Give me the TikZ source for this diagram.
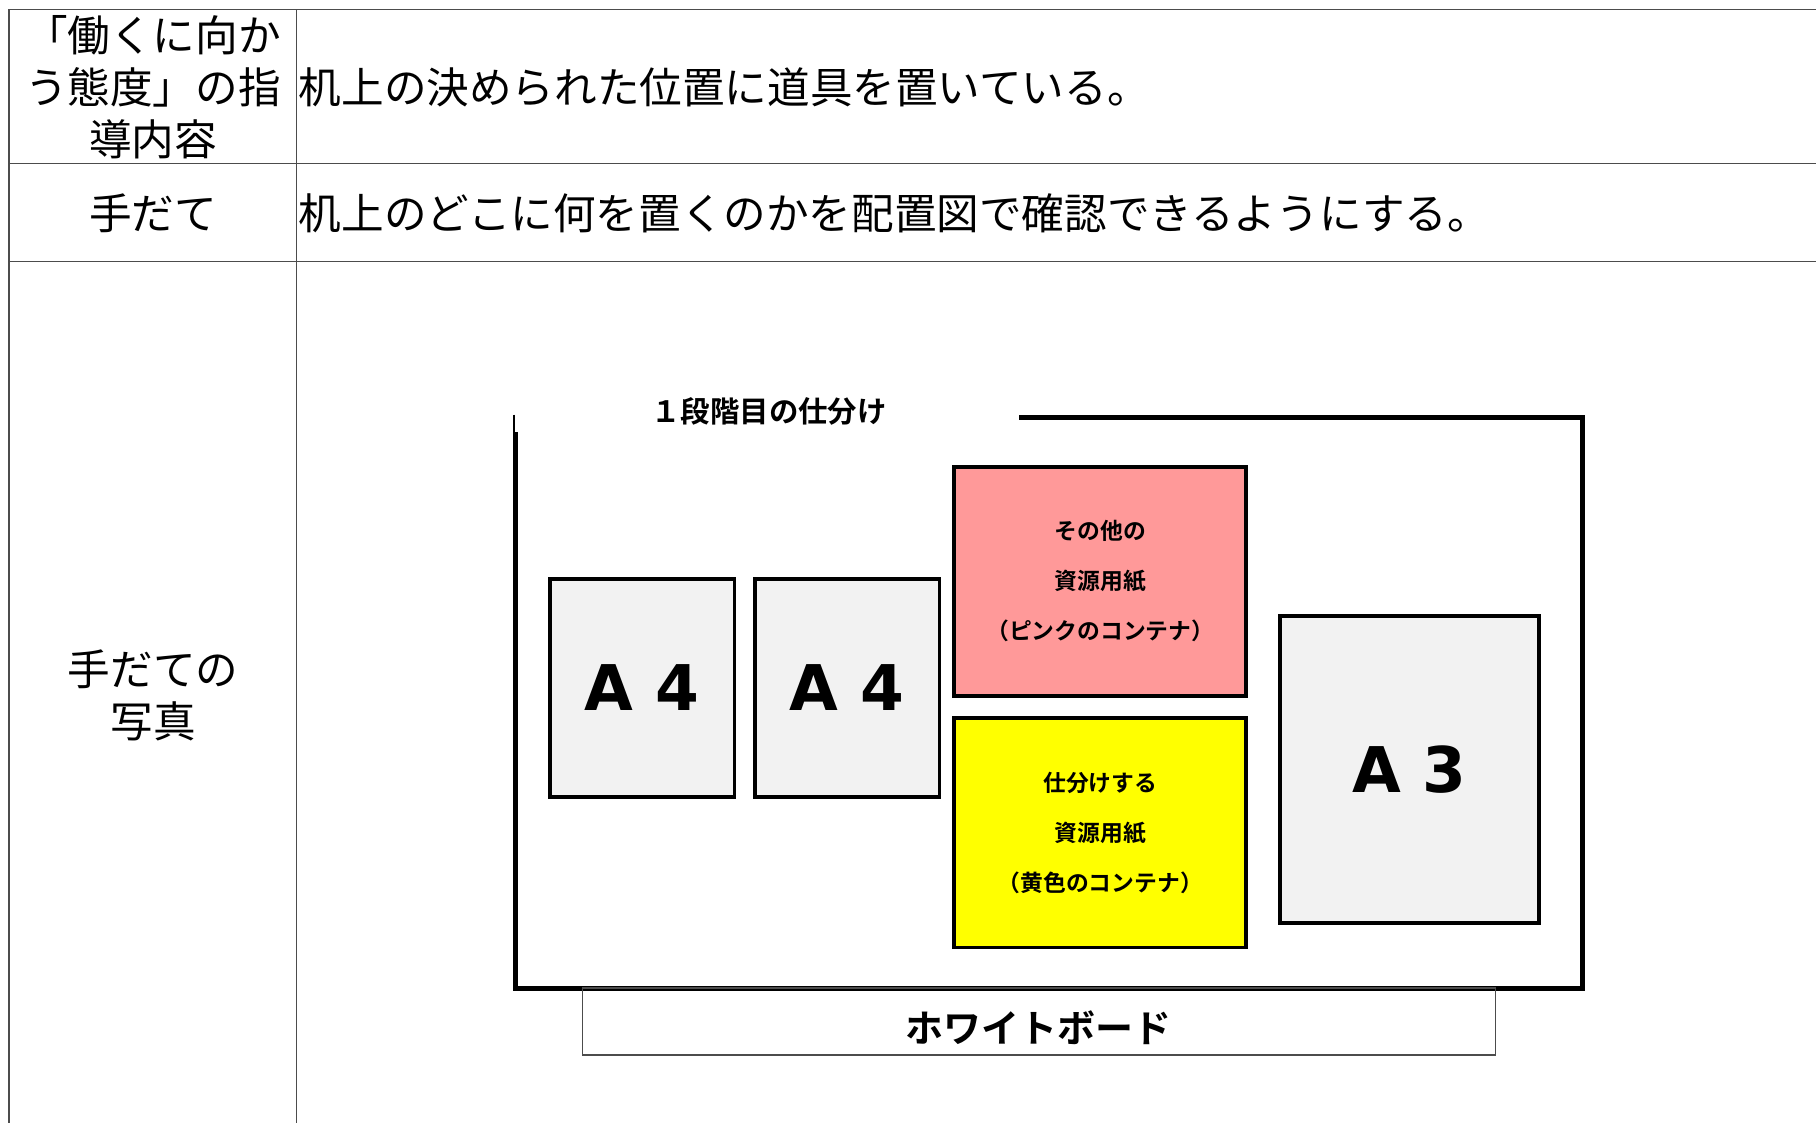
\documentclass[tikz,border=0pt]{standalone}
\usepackage{fontspec}
\setmainfont{Noto Sans CJK JP}[BoldFont={* Bold}]
\newfontfamily\latinbold{DejaVu Sans}
\definecolor{binyellow}{RGB}{255,255,0}
\definecolor{binpink}{RGB}{255,153,153}
\begin{document}
\begin{tikzpicture}[x=0.5pt,y=-0.5pt,
  grid/.style={draw=black!70,line width=0.7pt},
  celltext/.style={inner sep=0pt,font=\fontsize{21.3pt}{26pt}\selectfont,align=center},
  rowtext/.style={inner sep=0pt,anchor=west,font=\fontsize{21.3pt}{26pt}\selectfont},
  item/.style={draw=black,line width=1.8pt,inner sep=0pt},
  graybox/.style={item,fill=black!5,font=\latinbold\bfseries\fontsize{31.5pt}{36pt}\selectfont},
  binbox/.style={item,font=\bfseries\fontsize{11.4pt}{25pt}\selectfont,align=center},
  frame/.style={line width=2.5pt,draw=black}]
\useasboundingbox (0,0) rectangle (1816,1123);
% table
\draw[grid] (9,9.5) -- (1816,9.5);
\draw[grid] (9,163.3) -- (1816,163.3);
\draw[grid] (9,261.7) -- (1816,261.7);
\draw[grid] (9,9.5) -- (9,1123);
\draw[grid] (296.5,9.5) -- (296.5,1123);
\node[celltext] (h1) at (153,87) {「働くに向か\\う態度」の指\\導内容};
\node[rowtext] (t1) at (298.5,87) {机上の決められた位置に道具を置いている。};
\node[celltext] (h2) at (153,213) {手だて};
\node[rowtext] (t2) at (298.5,213) {机上のどこに何を置くのかを配置図で確認できるようにする。};
\node[celltext] (h3) at (153,695) {手だての\\写真};
% layout frame
\coordinate (f0) at (515,432);
\coordinate (f1) at (515,988);
\coordinate (f2) at (1582,988);
\coordinate (f3) at (1582,417);
\coordinate (f4) at (1019,417);
\coordinate (n0) at (513.5,414.5);
\coordinate (n1) at (513.5,436);
\draw[line width=1pt] (n0) -- (n1);
\draw[frame,line join=miter] (f0) -- (f1) -- (f2) -- (f3) -- (f4);
\node[inner sep=0pt,font=\bfseries\fontsize{14.7pt}{16pt}\selectfont] (title) at (769,411) {１段階目の仕分け};
% boxes
\node[graybox,minimum width=92.1pt,minimum height=108.8pt] (a4a) at (642.2,688) {A 4};
\node[graybox,minimum width=92.1pt,minimum height=108.8pt] (a4b) at (847.2,688) {A 4};
\node[graybox,minimum width=129.7pt,minimum height=153.4pt] (a3) at (1409.5,769.5) {A 3};
\node[binbox,fill=binpink,minimum width=146pt,minimum height=114.6pt] (pink) at (1100.2,581.3) {その他の\\資源用紙\\（ピンクのコンテナ）};
\node[binbox,fill=binyellow,minimum width=146pt,minimum height=114.7pt] (yel) at (1100.2,832.7) {仕分けする\\資源用紙\\（黄色のコンテナ）};
\node[draw=black!70,line width=0.6pt,inner sep=0pt,minimum width=456.3pt,minimum height=33.5pt] (wb) at (1038.8,1021.5) {};
\node[inner sep=0pt,font=\bfseries\fontsize{19pt}{20pt}\selectfont] (wbtext) at (1038.8,1028) {ホワイトボード};
\end{tikzpicture}
\end{document}
